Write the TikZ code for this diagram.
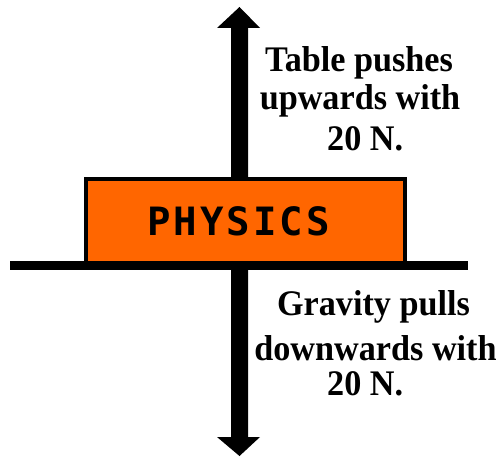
\documentclass[tikz,border=0pt]{standalone}
\usepackage{fontspec}
\newfontfamily\labfont[FakeStretch=0.95,UprightFont=* Bold]{Liberation Serif}
\newfontfamily\physfont[UprightFont=* Bold]{DejaVu Sans Mono}
\definecolor{boxorange}{HTML}{FF6600}
\tikzset{
  forcearrow/.style={fill=black, draw=none},
  bookbox/.style={fill=boxorange, draw=black, line width=4pt},
  tableline/.style={draw=black, line width=9pt},
  forcelabel/.style={font=\labfont\fontsize{36}{36}\selectfont, text=black, inner sep=0pt, anchor=base},
  physlabel/.style={font=\physfont\fontsize{39}{39}\selectfont, text=black, inner sep=0pt, anchor=base}
}
\begin{document}
\begin{tikzpicture}[x=1pt,y=-1pt]
\useasboundingbox (0,0) rectangle (502,457);
% vertical double arrow
\coordinate (toptip) at (239.5,7);
\coordinate (bottip) at (239.5,456);
\fill[forcearrow] (toptip) -- (260,28) -- (248,28) -- (248,437) -- (260,437)
  -- (bottip) -- (217,437) -- (231,437) -- (231,28) -- (217,28) -- cycle;
% book
\draw[bookbox] (86,179) rectangle (405,263);
\node[physlabel] (phys) at (238.5,235) {P\kern3pt H\kern3pt Y\kern3pt S\kern3pt I\kern3pt C\kern3pt S};
% table
\coordinate (tl) at (10,265.5);
\coordinate (tr) at (468,265.5);
\draw[tableline] (tl) -- (tr);
% labels
\node[forcelabel] (t1) at (359,72) {Table pushes};
\node[forcelabel] (t2) at (360,110) {upwards with};
\node[forcelabel, anchor=base west] (t3) at (327,150) {20 N.};
\node[forcelabel] (b1) at (373.5,315) {Gravity pulls};
\node[forcelabel] (b2) at (375.5,360) {downwards with};
\node[forcelabel, anchor=base west] (b3) at (327,395) {20 N.};
\end{tikzpicture}
\end{document}
